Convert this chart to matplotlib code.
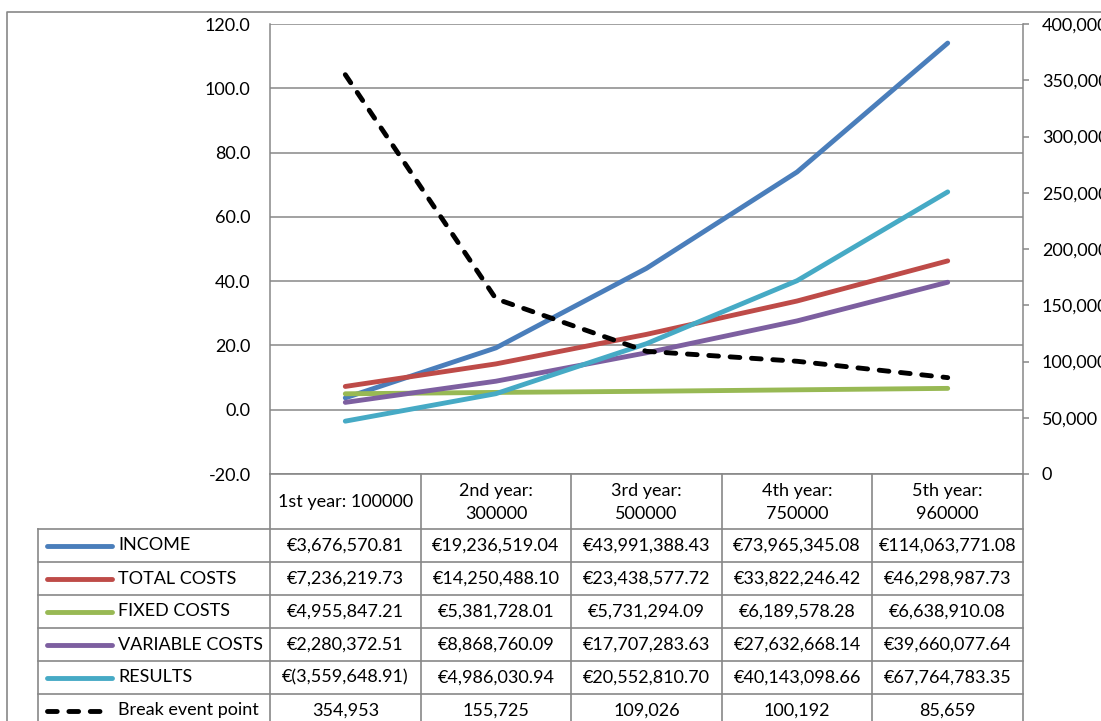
import matplotlib.pyplot as plt
import matplotlib.transforms as mtransforms
from matplotlib.ticker import FuncFormatter, MultipleLocator

plt.rcParams["font.family"] = ["Lato", "DejaVu Sans"]

years = ["1st year: 100000", "2nd year:\n300000", "3rd year:\n500000",
         "4th year:\n750000", "5th year:\n960000"]
income = [3676570.81, 19236519.04, 43991388.43, 73965345.08, 114063771.08]
total_costs = [7236219.73, 14250488.10, 23438577.72, 33822246.42, 46298987.73]
fixed_costs = [4955847.21, 5381728.01, 5731294.09, 6189578.28, 6638910.08]
variable_costs = [2280372.51, 8868760.09, 17707283.63, 27632668.14, 39660077.64]
results = [-3559648.91, 4986030.94, 20552810.70, 40143098.66, 67764783.35]
break_even = [354953, 155725, 109026, 100192, 85659]

series_names = ["INCOME", "TOTAL COSTS", "FIXED COSTS", "VARIABLE COSTS", "RESULTS"]
series_values = [income, total_costs, fixed_costs, variable_costs, results]
series_colors = ["#4A7EBB", "#BE4B48", "#98B954", "#7D5FA0", "#46AAC5"]
be_name = "Break event point"

W, H = 1101, 721
GRID = "#878787"
FS = 13
LW = 3.5
DASH = (0, (2.0, 2.4))


def euro(v):
    s = f"{abs(v):,.2f}"
    return f"€({s})" if v < 0 else f"€{s}"


fig = plt.figure(figsize=(W / 100, H / 100), dpi=100)

# plot area in pixel terms: x 270..1023, y 24..474
ax = fig.add_axes([270 / W, 1 - 474 / H, (1023 - 270) / W, (474 - 24) / H])
x = list(range(len(years)))
for vals, col in zip(series_values, series_colors):
    ax.plot(x, [v / 1e6 for v in vals], color=col, lw=LW,
            solid_capstyle="round", zorder=3)
ax.set_xlim(-0.5, len(years) - 0.5)
ax.set_ylim(-20, 120)
ax.yaxis.set_major_locator(MultipleLocator(20))
ax.yaxis.set_major_formatter(FuncFormatter(lambda v, p: f"{v:.1f}"))
ax.grid(axis="y", color=GRID, lw=1.1)
ax.set_xticks([])
ax.tick_params(axis="y", length=0, pad=14, labelsize=FS)
for side in ["top", "bottom", "right"]:
    ax.spines[side].set_visible(False)
ax.spines["left"].set_color(GRID)
ax.spines["left"].set_linewidth(1.1)

# break-even point on the secondary axis
ax2 = ax.twinx()
ax2.plot(x, break_even, color="black", lw=LW,
         linestyle=DASH, dash_capstyle="round", zorder=4)
ax2.set_ylim(0, 400000)
ax2.yaxis.set_major_locator(MultipleLocator(50000))
ax2.yaxis.set_major_formatter(FuncFormatter(lambda v, p: f"{int(v):,}"))
ax2.tick_params(axis="y", length=4.5, width=1.1, color=GRID, pad=9, labelsize=FS)
for side in ["top", "bottom", "left"]:
    ax2.spines[side].set_visible(False)
ax2.spines["right"].set_color(GRID)
ax2.spines["right"].set_linewidth(1.1)

# overlay in pixel coordinates for the frame and data table
ov = fig.add_axes([0, 0, 1, 1])
ov.set_xlim(0, W)
ov.set_ylim(H, 0)
ov.axis("off")
ov.plot([7, 7, W], [H, 12, 12], color=GRID, lw=1.2)

tr = mtransforms.blended_transform_factory(ax.transData, ov.transData)
head_top, head_bot, row_h = 474, 529, 33
n_rows = len(series_names) + 1

ov.plot([270, 1023], [head_top, head_top], color=GRID, lw=1.2)
for i in range(n_rows):
    y = head_bot + i * row_h
    ov.plot([38, 1023], [y, y], color=GRID, lw=1.2)
ov.plot([38, 38], [head_bot, H], color=GRID, lw=1.2)
for i in range(len(years) + 1):
    ov.plot([i - 0.5, i - 0.5], [head_top, H], color=GRID, lw=1.2, transform=tr)

for i, label in enumerate(years):
    ov.text(i, (head_top + head_bot) / 2 + 1, label, transform=tr,
            ha="center", va="center", fontsize=FS, linespacing=1.6)

rows = [[euro(v) for v in vals] for vals in series_values]
rows.append([f"{v:,}" for v in break_even])
names = series_names + [be_name]
for r, (name, cells) in enumerate(zip(names, rows)):
    yc = head_bot + r * row_h + row_h / 2
    if r < len(series_names):
        ov.plot([47, 112], [yc, yc], color=series_colors[r], lw=LW,
                solid_capstyle="round")
    else:
        ov.plot([47, 105], [yc, yc], color="black", lw=LW,
                linestyle=DASH, dash_capstyle="round")
    ov.text(118, yc, name, ha="left", va="center", fontsize=FS)
    for i, c in enumerate(cells):
        ov.text(i, yc, c, transform=tr, ha="center", va="center", fontsize=FS)

fig.savefig("out.png", dpi=100)
